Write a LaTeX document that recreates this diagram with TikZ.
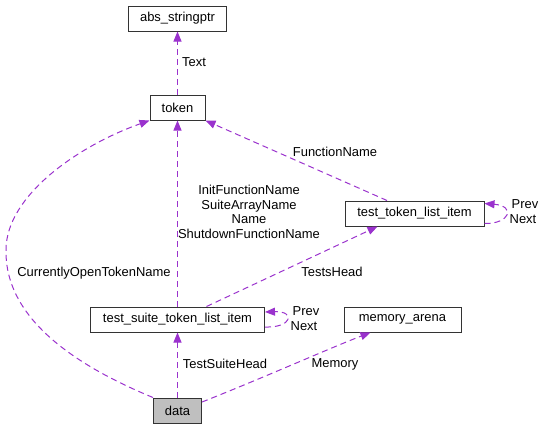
\documentclass[tikz,border=0pt]{standalone}
\usepackage{fontspec}
\setmainfont{Liberation Sans}
\usetikzlibrary{arrows.meta}
\definecolor{edgepurple}{HTML}{9A32CD}
\definecolor{datagray}{HTML}{BFBFBF}
\begin{document}
\begin{tikzpicture}[x=1bp,y=-1bp,
    every node/.style={font=\fontsize{13}{14.5}\selectfont},
    box/.style={draw=black!80,line width=1bp,fill=white,minimum height=25bp,inner sep=0pt},
    edge/.style={edgepurple,line width=1bp,dash pattern=on 6bp off 4bp,
        -{Triangle[length=10bp,width=8bp]}},
    lbl/.style={inner sep=0pt,align=center}]
    \useasboundingbox (0,0) rectangle (545,429);
    \node[box,minimum width=98bp] (absptr) at (177.5,18.5) {abs\_stringptr};
    \node[box,minimum width=55bp] (token) at (177.5,107.5) {token};
    \node[box,minimum width=139bp] (testitem) at (414.5,213.5) {test\_token\_list\_item};
    \node[box,minimum width=174bp] (suiteitem) at (177.5,319.5) {test\_suite\_token\_list\_item};
    \node[box,minimum width=117bp] (arena) at (402.5,319.5) {memory\_arena};
    \node[box,minimum width=48bp,fill=datagray] (data) at (177.5,410.5) {data};
    \draw[edge] (token.north) -- (token.north |- absptr.south);
    \draw[edge] ([xshift=-27.5bp]testitem.north) -- (token.south east);
    \draw[edge] (suiteitem.north) -- (suiteitem.north |- token.south);
    \draw[edge] ([xshift=29bp]suiteitem.north) -- ([xshift=-37bp]testitem.south);
    \draw[edge] ([yshift=-10bp]testitem.east) .. controls (510,224) and (516,206) .. ([yshift=10bp]testitem.east);
    \draw[edge] ([yshift=-7.5bp]suiteitem.east) .. controls (292,328) and (296,311) .. ([yshift=7.5bp]suiteitem.east);
    \draw[edge] (data.north) -- (suiteitem.south);
    \draw[edge] ([yshift=8.5bp]data.east) .. controls (270,375) and (330,348) .. ([xshift=-32bp]arena.south);
    \draw[edge] (data.north west) .. controls (50,355) and (5,305) .. (6,250)
        .. controls (6,195) and (80,145) .. (token.south west);
    \node[lbl] (ltext) at (194,62) {Text};
    \node[lbl] (lfunc) at (335,152) {FunctionName};
    \node[lbl] (lnames) at (249,212) {InitFunctionName\\SuiteArrayName\\Name\\ShutdownFunctionName};
    \node[lbl] (ltests) at (332,272) {TestsHead};
    \node[lbl] (lprevA) at (525,204) {Prev};
    \node[lbl] (lnextA) at (523,219) {Next};
    \node[lbl] (lprevB) at (306,311) {Prev};
    \node[lbl] (lnextB) at (304,326) {Next};
    \node[lbl] (lopen) at (94,273) {CurrentlyOpenTokenName};
    \node[lbl] (lsuite) at (225,364) {TestSuiteHead};
    \node[lbl] (lmem) at (335,364) {Memory};
\end{tikzpicture}
\end{document}
